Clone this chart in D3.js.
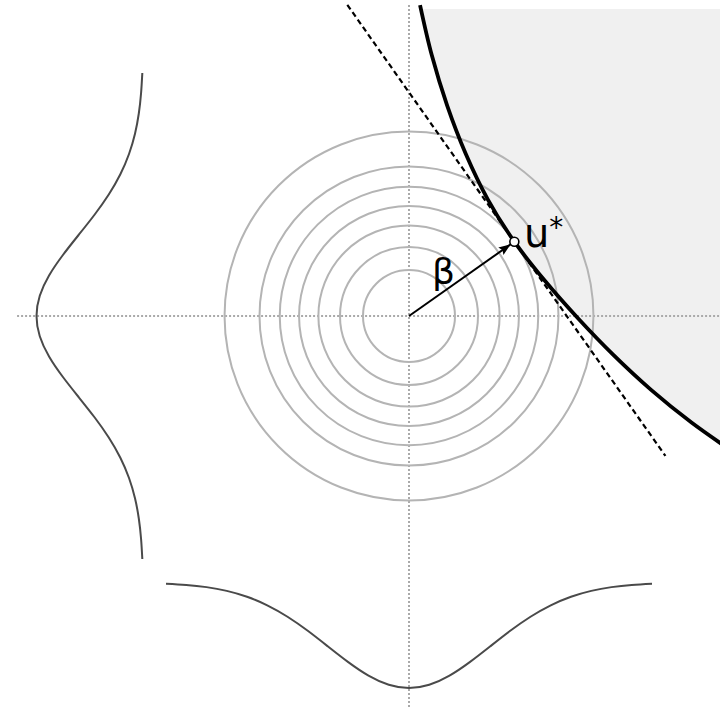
<!DOCTYPE html>
<html>
<head>
<meta charset="utf-8">
<script src="https://cdn.jsdelivr.net/npm/d3@7"></script>
<style>
  html, body { margin: 0; padding: 0; background: #fff; }
  svg { display: block; }
</style>
</head>
<body>
<svg id="chart" width="720" height="710"></svg>
<script>
// Standard normal space: iso-density contours, limit-state surface, design point u*

// radii of the iso-density circles (standard-normal units)
const contourRadii = [1.0, 1.5, 1.97, 2.39, 2.81, 3.25, 4.01];

// design point u*
const uStar = [2.29, 1.615];

// limit-state surface g(u) = 0, sampled along the boundary
const limitState = [
  [0.24, 6.76], [0.496, 5.667], [0.83, 4.574], [1.233, 3.528], [1.712, 2.537],
  [2.29, 1.615], [2.959, 0.759], [3.683, -0.061], [4.448, -0.852],
  [5.263, -1.607], [6.141, -2.317], [7.085, -2.98]
];

// extent of the linearised (tangent) surface along its direction
const tangentExtent = [-6.3, 5.7];

// extent of the dotted coordinate axes
const axisExtent = [-8.52, 6.76];

// marginal standard normal density, sampled at quarter steps on [-3, 3]
const marginalU = d3.range(-3, 3.001, 0.25);
const marginalPdf = [
  0.0044, 0.0091, 0.0175, 0.0317, 0.0540, 0.0863, 0.1295, 0.1826, 0.2420,
  0.3011, 0.3521, 0.3867, 0.3989, 0.3867, 0.3521, 0.3011, 0.2420, 0.1826,
  0.1295, 0.0863, 0.0540, 0.0317, 0.0175, 0.0091, 0.0044
];

const labelBeta = "β";
const labelU = "u";
const labelStar = "*";

const svg = d3.select("#chart");
const W = 720, H = 710;

// u-space scales
const x = d3.scaleLinear().domain([-1, 1]).range([409 - 46, 409 + 46]);
const y = d3.scaleLinear().domain([-1, 1]).range([316 + 46, 316 - 46]);

// marginal density scales
const mU = d3.scaleLinear().domain([-3, 3]).range([409 - 243, 409 + 243]);
const mBottom = d3.scaleLinear().domain([0, 0.3989]).range([582.5, 688]);
const mLeftY = d3.scaleLinear().domain([-3, 3]).range([316 + 243, 316 - 243]);
const mLeft = d3.scaleLinear().domain([0, 0.3989]).range([143.5, 36.5]);

const defs = svg.append("defs");
defs.append("clipPath").attr("id", "failClip")
  .append("rect").attr("x", 0).attr("y", 9).attr("width", W).attr("height", H);

defs.append("marker")
  .attr("id", "arrowHead")
  .attr("viewBox", "0 0 12 9")
  .attr("refX", 12).attr("refY", 4.5)
  .attr("markerWidth", 12).attr("markerHeight", 9)
  .attr("markerUnits", "userSpaceOnUse")
  .attr("orient", "auto")
  .append("path")
  .attr("d", "M0,0 L12,4.5 L0,9 L2,4.5 Z")
  .attr("fill", "#000");

const line = d3.line().x(d => x(d[0])).y(d => y(d[1])).curve(d3.curveCatmullRom.alpha(0.5));

// failure domain
const last = limitState[limitState.length - 1];
const first = limitState[0];
svg.append("path")
  .attr("clip-path", "url(#failClip)")
  .attr("d", line(limitState)
        + "L" + x(last[0] + 1) + "," + y(last[1])
        + "L" + x(last[0] + 1) + "," + y(first[1] + 1)
        + "L" + x(first[0]) + "," + y(first[1] + 1) + "Z")
  .attr("fill", "#f0f0f0")
  .attr("stroke", "none");

// dotted axes
const axes = svg.append("g")
  .attr("stroke", "#aaaaaa")
  .attr("stroke-width", 2)
  .attr("stroke-dasharray", "2,2");
axes.append("line")
  .attr("x1", x(axisExtent[0])).attr("x2", x(axisExtent[1]))
  .attr("y1", y(0)).attr("y2", y(0));
axes.append("line")
  .attr("x1", x(0)).attr("x2", x(0))
  .attr("y1", y(axisExtent[1])).attr("y2", y(axisExtent[0]));

// iso-density contours
svg.append("g")
  .selectAll("circle")
  .data(contourRadii)
  .join("circle")
  .attr("cx", x(0)).attr("cy", y(0))
  .attr("r", d => x(d) - x(0))
  .attr("fill", "none")
  .attr("stroke", "#b4b4b4")
  .attr("stroke-width", 2);

// marginal densities
const marginal = marginalU.map((u, i) => [u, marginalPdf[i]]);
svg.append("path")
  .datum(marginal)
  .attr("d", d3.line().x(d => mU(d[0])).y(d => mBottom(d[1])).curve(d3.curveNatural))
  .attr("fill", "none").attr("stroke", "#4a4a4a").attr("stroke-width", 2);

svg.append("path")
  .datum(marginal)
  .attr("d", d3.line().x(d => mLeft(d[1])).y(d => mLeftY(d[0])).curve(d3.curveNatural))
  .attr("fill", "none").attr("stroke", "#4a4a4a").attr("stroke-width", 2);

// limit-state surface
svg.append("path")
  .datum(limitState)
  .attr("d", line)
  .attr("fill", "none")
  .attr("stroke", "#000")
  .attr("stroke-width", 3.8);

// tangent hyperplane at u*
const beta = Math.hypot(uStar[0], uStar[1]);
const alpha = [uStar[0] / beta, uStar[1] / beta];
const tdir = [alpha[1], -alpha[0]];
svg.append("line")
  .attr("x1", x(uStar[0] + tangentExtent[0] * tdir[0]))
  .attr("y1", y(uStar[1] + tangentExtent[0] * tdir[1]))
  .attr("x2", x(uStar[0] + tangentExtent[1] * tdir[0]))
  .attr("y2", y(uStar[1] + tangentExtent[1] * tdir[1]))
  .attr("stroke", "#000")
  .attr("stroke-width", 2.2)
  .attr("stroke-dasharray", "5.5,3.5");

// reliability index arrow
const markerR = 4.5;
const pxLen = x(beta) - x(0);
const shorten = (pxLen - markerR) / pxLen;
svg.append("line")
  .attr("x1", x(0)).attr("y1", y(0))
  .attr("x2", x(uStar[0] * shorten)).attr("y2", y(uStar[1] * shorten))
  .attr("stroke", "#000")
  .attr("stroke-width", 2)
  .attr("marker-end", "url(#arrowHead)");

// design point
svg.append("circle")
  .attr("cx", x(uStar[0])).attr("cy", y(uStar[1]))
  .attr("r", markerR)
  .attr("fill", "#fff")
  .attr("stroke", "#000")
  .attr("stroke-width", 1.6);

// labels
svg.append("text")
  .attr("x", 432).attr("y", 284)
  .attr("font-family", "DejaVu Sans")
  .attr("font-size", 36)
  .attr("fill", "#000")
  .text(labelBeta);

const ut = svg.append("text")
  .attr("x", 524).attr("y", 247)
  .attr("font-family", "DejaVu Sans")
  .attr("font-size", 40)
  .attr("fill", "#000");
ut.append("tspan").text(labelU);
ut.append("tspan").attr("font-size", 28).attr("dy", -10).text(labelStar);
</script>
</body>
</html>
